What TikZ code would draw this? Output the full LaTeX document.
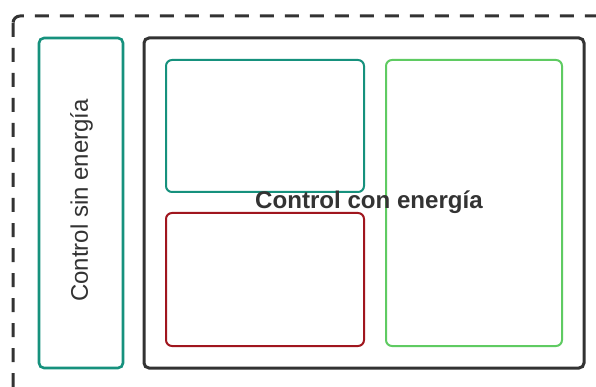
\documentclass[tikz,border=0pt]{standalone}
\usepackage{fontspec}
\setmainfont{Liberation Sans}
\definecolor{tealc}{HTML}{16917D}
\definecolor{darkc}{HTML}{333333}
\definecolor{redc}{HTML}{A0161E}
\definecolor{greenc}{HTML}{5FCB62}
\tikzset{
  box/.style={draw, rounded corners=5pt, inner sep=0pt, outer sep=0pt, anchor=north west},
}
\begin{document}
\begin{tikzpicture}[x=1pt,y=-1pt]
\useasboundingbox (0,0) rectangle (596,387);
\clip (0,0) rectangle (596,387);
\fill[white] (0,0) rectangle (596,387);
% outer dashed frame
\draw[darkc, line width=3pt, dash pattern=on 14pt off 11pt, rounded corners=7pt] (13,16) rectangle (620,410);
% left box
\node[box, draw=tealc, line width=2.6pt, minimum width=84pt, minimum height=330pt] (left) at (39,38) {};
\node[rotate=90, font=\fontsize{24}{28}\selectfont, text=darkc] (lefttxt) at (81.5,200.5) {Control sin energía};
% big box
\node[box, draw=darkc, line width=3pt, minimum width=440pt, minimum height=330pt] (big) at (144,38) {};
% inner boxes
\node[box, draw=tealc, line width=2pt, rounded corners=6pt, minimum width=198pt, minimum height=132pt] (tl) at (166,60) {};
\node[box, draw=redc, line width=2pt, rounded corners=6pt, minimum width=198pt, minimum height=133pt] (bl) at (166,213) {};
\node[box, draw=greenc, line width=2pt, rounded corners=6pt, minimum width=176pt, minimum height=286pt] (rg) at (386,60) {};
\node[font=\bfseries\fontsize{24.1}{28}\selectfont, text=darkc] (bigtxt) at (369,202.5) {Control con energía};
\end{tikzpicture}
\end{document}
